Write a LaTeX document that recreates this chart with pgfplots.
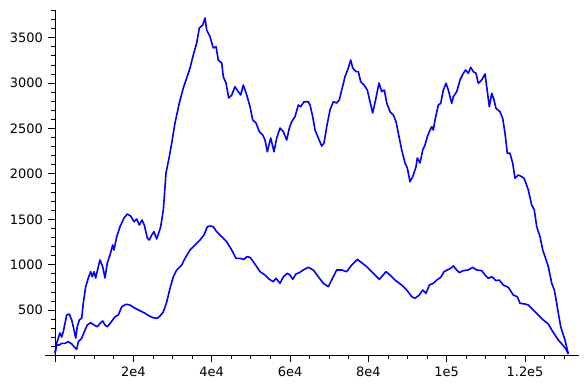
\documentclass[border=0pt]{standalone}
\usepackage{fontspec}
\setmainfont{DejaVu Sans}
\usepackage{pgfplots}
\pgfplotsset{compat=1.18}
\begin{document}
\begin{tikzpicture}
\path[use as bounding box] (-45bp,-33.5bp) rectangle (543bp,355.5bp);
\begin{axis}[
  at={(0,0)}, anchor=south west,
  scale only axis,
  width=534.3bp, height=345.5bp,
  xmin=-2553, xmax=133850,
  ymin=0, ymax=3805,
  axis lines=middle,
  axis line style={-, line width=0.8bp, black},
  every inner x axis line/.append style={-},
  every inner y axis line/.append style={-},
  hide obscured x ticks=false,
  hide obscured y ticks=false,
  scaled x ticks=false,
  scaled y ticks=false,
  tick align=outside,
  major tick length=7bp,
  minor tick length=4bp,
  tick style={line width=0.8bp, black},
  xtick={0,20000,40000,60000,80000,100000,120000},
  xticklabels={,2e4,4e4,6e4,8e4,1e5,1.2e5},
  minor xtick={5000,10000,15000,25000,30000,35000,45000,50000,55000,65000,70000,75000,85000,90000,95000,105000,110000,115000,125000,130000},
  ytick={500,1000,1500,2000,2500,3000,3500},
  yticklabels={500,1000,1500,2000,2500,3000,3500},
  minor ytick={100,200,300,400,600,700,800,900,1100,1200,1300,1400,1600,1700,1800,1900,2100,2200,2300,2400,2600,2700,2800,2900,3100,3200,3300,3400,3600,3700,3800},
  tick label style={font=\fontsize{13}{15}\selectfont},
  xticklabel style={anchor=north, inner sep=0pt, yshift=-4bp},
  yticklabel style={anchor=east, inner sep=0pt, xshift=-5bp},
  clip=false,
]
\addplot[blue, line width=1.6bp, line join=round] coordinates {
(0,28) (434,138) (1277,248) (1710,204) (2119,262) (2987,446) (3651,457) (4264,391)
(4672,317) (5285,193) (5693,317) (6204,391) (6817,413) (7225,578) (7838,758) (8501,854)
(9114,923) (9523,868) (9957,923) (10391,854) (11055,978) (11489,1052) (12178,978) (12765,854)
(13352,1019) (14042,1107) (14731,1217) (15063,1162) (15752,1308) (16595,1418) (17029,1459) (17616,1514)
(18458,1558) (19326,1536) (20169,1474) (20858,1503) (21522,1437) (22211,1492) (22798,1437) (23564,1294)
(24075,1272) (24687,1327) (25275,1363) (25964,1283) (26474,1349) (26985,1418) (27649,1602) (28338,2010)
(29181,2189) (29793,2340) (30636,2561) (31734,2781) (32755,2946) (33623,3056) (34466,3166) (35308,3309)
(36176,3442) (36840,3607) (37708,3640) (38295,3717) (38729,3585) (39572,3511) (40414,3387) (41103,3401)
(41691,3254) (42559,3221) (42967,3070) (43656,3001) (44346,2836) (45112,2869) (45954,2960) (46797,2905)
(47409,2869) (48073,2979) (48941,2869) (49784,2740) (50473,2594) (51316,2561) (52158,2465) (53026,2428)
(53613,2373) (54200,2244) (55068,2395) (55911,2244) (56600,2395) (57442,2505) (58285,2465) (59153,2373)
(59817,2505) (60430,2575) (61272,2630) (62115,2759) (62727,2740) (63570,2795) (64668,2795) (65102,2759)
(65791,2630) (66378,2483) (67221,2395) (68089,2307) (68676,2340) (69365,2520) (70208,2704) (71050,2795)
(71918,2781) (72582,2814) (73194,2924) (74037,3070) (74879,3166) (75492,3254) (76003,3166) (76845,3126)
(77432,3126) (78045,3015) (78888,2979) (79730,2924) (80420,2795) (81109,2671) (81951,2836) (82717,3001)
(83406,2905) (84070,2924) (84683,2781) (85526,2685) (86368,2649) (87057,2575) (87645,2450) (88513,2263)
(89356,2120) (89943,2065) (90632,1914) (91321,1969) (92163,2079) (92495,2175) (93185,2120) (93874,2263)
(94461,2318) (95048,2410) (95738,2483) (96172,2520) (96580,2483) (97014,2594) (97856,2759) (98469,2777)
(99133,2924) (99822,2998) (100409,2924) (101277,2777) (101686,2850) (102554,2905) (103396,3034) (104239,3108)
(104852,3144) (105515,3108) (106128,3174) (106792,3126) (107481,3108) (108068,2998) (108936,3034) (109778,3100)
(110212,2960) (110876,2740) (111489,2888) (112076,2814) (112587,2722) (113608,2685) (114297,2612) (114885,2447)
(115472,2227) (116162,2227) (116851,2117) (117438,1952) (118280,1988) (119148,1969) (119736,1952) (120246,1896)
(120833,1823) (121701,1657) (122365,1602) (122978,1418) (123821,1308) (124510,1162) (125097,1088) (125940,978)
(126808,795) (127472,721) (128085,575) (128493,465) (129106,317) (129617,244) (130204,171) (130893,42) (131050,17)
};
\addplot[blue, line width=1.6bp, line join=round] coordinates {
(0,24) (434,116) (1098,116) (1711,134) (2553,134) (3395,152) (4264,127) (4851,97)
(5540,68) (5948,152) (6817,189) (7480,262) (8246,336) (9114,361) (9957,336) (10799,317)
(11667,361) (12178,380) (12765,336) (13352,317) (14220,361) (15318,427) (16160,446) (17029,537)
(18126,564) (19148,556) (20424,520) (21701,493) (22977,465) (24075,435) (25096,416) (26117,410)
(26807,435) (27649,479) (28517,589) (29360,740) (30202,868) (31070,942) (32347,997) (33189,1070)
(34466,1162) (35742,1217) (37019,1272) (38040,1327) (38882,1418) (39572,1426) (40414,1418) (41282,1363)
(42559,1308) (43835,1253) (45112,1162) (46209,1070) (47231,1070) (48252,1059) (48941,1088) (49784,1081)
(50626,1033) (51494,978) (52337,923) (53613,887) (54711,839) (55732,813) (56421,850) (57442,795)
(58285,865) (59306,905) (59996,887) (60685,839) (61527,898) (62370,912) (63391,942) (64668,971)
(65944,942) (67221,868) (68497,795) (69774,758) (70642,831) (71918,942) (73194,942) (74471,923)
(75747,997) (77177,1059) (78300,1022) (79577,978) (81262,905) (82794,839) (84504,923) (85526,887)
(86802,831) (88513,776) (89789,721) (91066,648) (91908,630) (93006,666) (93874,721) (94716,685)
(95559,776) (96580,795) (97448,831) (98469,861) (99312,923) (100154,942) (101022,960) (101686,986)
(102554,942) (103218,912) (104239,934) (105515,942) (106638,971) (107660,942) (108936,934) (109778,887)
(110621,850) (111489,868) (112587,824) (113430,831) (114451,776) (115728,751) (117004,666) (118025,648)
(118715,575) (119991,567) (120834,556) (122111,501) (123387,446) (124664,391) (125940,347) (126808,281)
(127650,226) (128493,171) (129617,116) (130459,68) (130893,31) (131050,17)
};
\end{axis}
\end{tikzpicture}
\end{document}
